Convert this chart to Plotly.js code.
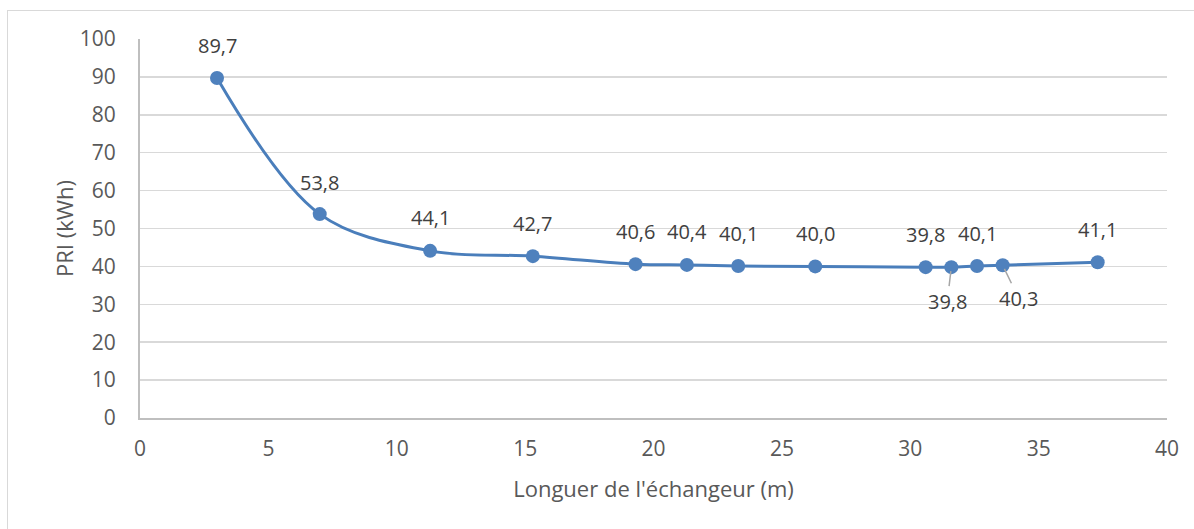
<!DOCTYPE html>
<html>
<head>
<meta charset="utf-8">
<script src="https://cdn.plot.ly/plotly-3.0.1.min.js"></script>
<style>
html,body{margin:0;padding:0;background:#fff;overflow:hidden;}
#frame{position:absolute;left:7px;top:10px;width:1200px;height:540px;border:1px solid #d9d9d9;box-sizing:border-box;}
#chart{position:absolute;left:0;top:0;width:1194px;height:529px;}
</style>
</head>
<body>
<div id="frame"></div>
<div id="chart"></div>
<script>
// Data
var longueur = [3.0, 7.0, 11.3, 15.3, 19.3, 21.3, 23.3, 26.3, 30.6, 31.6, 32.6, 33.6, 37.3];
var pri = [89.7, 53.8, 44.1, 42.7, 40.6, 40.4, 40.1, 40.0, 39.8, 39.8, 40.1, 40.3, 41.1];
var xTicks = [0, 5, 10, 15, 20, 25, 30, 35, 40];
var yTicks = [0, 10, 20, 30, 40, 50, 60, 70, 80, 90, 100];

// Label placement (layout config): offsets in pixels, leader line flags
var labelDx = [0, 0, 0, 0, 0, 0, 0, 0, 0, -4, 0, 16, 0];
var labelDy = [-33, -32, -33, -33, -33, -33, -33, -33, -33, 34, -33, 33, -33];
var leader = [false, false, false, false, false, false, false, false, false, true, false, true, false];

function fmt(v){ return v.toFixed(1).replace('.', ','); }

var FONT = 'Open Sans, Noto Sans, sans-serif';

var annotations = longueur.map(function(x, i){
  var a = {
    x: x, y: pri[i], xref: 'x', yref: 'y',
    text: fmt(pri[i]),
    font: {family: FONT, size: 20, color: '#404040'}
  };
  if (leader[i]) {
    a.showarrow = true; a.arrowhead = 0; a.arrowwidth = 1.5; a.arrowcolor = '#a6a6a6';
    a.ax = labelDx[i]; a.ay = labelDy[i]; a.standoff = 4;
  } else {
    a.showarrow = false; a.xshift = labelDx[i]; a.yshift = -labelDy[i];
  }
  return a;
});

var trace = {
  x: longueur, y: pri, type: 'scatter', mode: 'lines+markers',
  line: {color: '#4a7ebb', width: 3, shape: 'spline', smoothing: 1},
  marker: {color: '#4f81bd', size: 14, line: {width: 0}},
  hoverinfo: 'x+y'
};

var layout = {
  width: 1194, height: 529,
  margin: {l: 140, r: 27, t: 39, b: 111},
  paper_bgcolor: 'rgba(0,0,0,0)', plot_bgcolor: 'rgba(0,0,0,0)',
  showlegend: false,
  font: {family: FONT, color: '#595959', size: 21},
  xaxis: {
    range: [0, 40], tickvals: xTicks, ticktext: xTicks.map(String),
    showgrid: false, zeroline: false, showline: true, linecolor: '#bfbfbf', linewidth: 2,
    ticks: '', ticklabelstandoff: 11, tickfont: {family: FONT, size: 21, color: '#595959'},
    title: {text: "Longuer de l'échangeur (m)", font: {family: FONT, size: 22, color: '#595959'}, standoff: 20}
  },
  yaxis: {
    range: [0, 100], tickvals: yTicks, ticktext: yTicks.map(String),
    showgrid: true, gridcolor: '#d9d9d9', gridwidth: 1.5, zeroline: false,
    showline: true, linecolor: '#bfbfbf', linewidth: 2,
    ticks: '', ticklabelstandoff: 18, tickfont: {family: FONT, size: 21, color: '#595959'},
    title: {text: 'PRI (kWh)', font: {family: FONT, size: 22, color: '#595959'}, standoff: 0}
  },
  annotations: annotations
};

Plotly.newPlot('chart', [trace], layout, {displayModeBar: false, staticPlot: true});
</script>
</body>
</html>
